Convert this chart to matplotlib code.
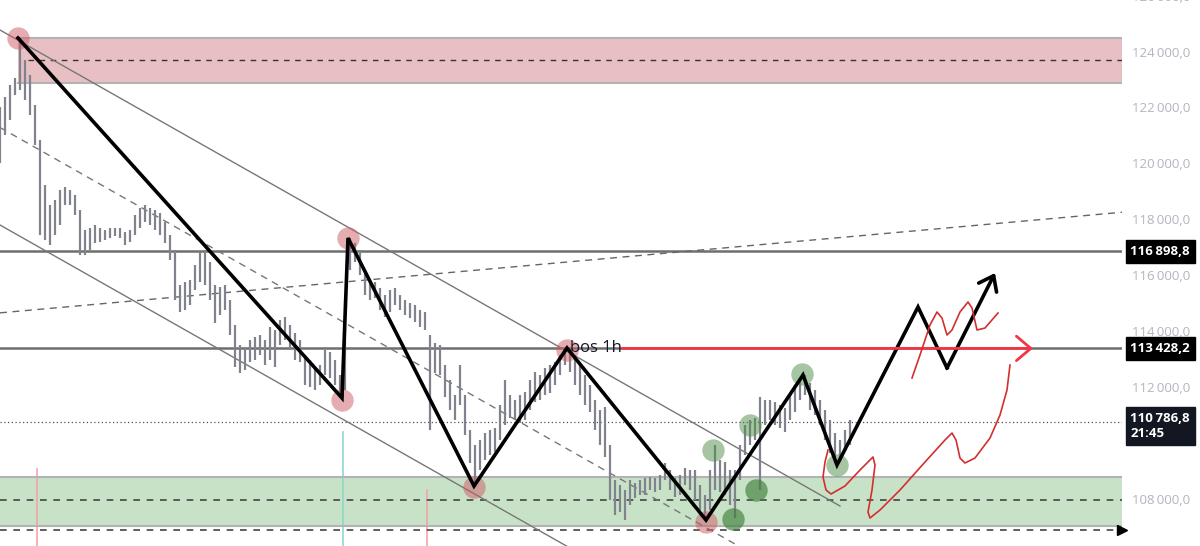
import matplotlib.pyplot as plt

# ===== DATA =====
# candle highs / lows, one bar every 5 px of the original screenshot
highs = [122070, 122420, 122850, 123100, 124540, 123750, 123210, 122140, 120890, 119280,
         118560, 118740, 119100, 119200, 119100, 118920, 118380, 117670, 117740, 117840,
         117740, 117670, 117740, 117740, 117740, 117590, 117670, 118200, 118450, 118560,
         118450, 118380, 118270, 117950, 117490, 116950, 115700, 115800, 115880, 116410,
         116880, 116950, 116520, 115700, 115630, 115700, 115160, 114270, 113550, 113480,
         113730, 113840, 113910, 113730, 114190, 114090, 114440, 114550, 114270, 113980,
         113730, 113190, 113010, 112730, 112830, 113370, 113300, 113010, 112480, 115160,
         117380, 117200, 116950, 116230, 115880, 115800, 115590, 115340, 115520, 115590,
         115340, 115160, 115050, 114980, 114800, 114730, 113910, 113620, 113550, 112830,
         112300, 111760, 112830, 111760, 110510, 109970, 110150, 110400, 110510, 110580,
         111400, 112300, 111760, 111580, 111760, 111870, 112300, 112580, 112480, 112730,
         112830, 112940, 113190, 113370, 113300, 113190, 112830, 112480, 112120, 111580,
         111220, 111330, 109970, 108720, 108540, 108360, 108720, 108610, 108720, 108790,
         108830, 108790, 108900, 109330, 109080, 108790, 108900, 109150, 109080, 109080,
         108540, 108180, 109080, 109970, 109430, 109360, 109080, 109080, 109970, 110690,
         110870, 110940, 111690, 111580, 111580, 111510, 111400, 111300, 111760, 112120,
         112370, 112480, 112190, 111940, 111580, 111220, 110870, 110400, 110150, 110510,
         110870]
lows = [120060, 121070, 121600, 122500, 122680, 122320, 121780, 120710, 117490, 117310,
        117130, 117490, 117840, 118560, 118560, 118200, 116770, 116770, 116950, 117200,
        117240, 117310, 117380, 117450, 117380, 117130, 117240, 117490, 117740, 117950,
        117840, 117670, 117490, 117200, 116590, 115160, 114730, 114800, 114980, 115520,
        115800, 115700, 115160, 114340, 114620, 114800, 113910, 112760, 112550, 112660,
        112940, 113010, 113190, 112830, 113010, 112760, 113550, 113730, 113370, 113010,
        112940, 112120, 112050, 111940, 112120, 112480, 112370, 112120, 111690, 111940,
        116230, 116520, 116050, 115340, 115160, 115230, 114800, 114550, 114730, 114980,
        114800, 114620, 114520, 114370, 114190, 114090, 110510, 112550, 112480, 111690,
        111220, 110870, 111400, 110330, 109330, 108470, 109080, 109430, 109610, 109720,
        110150, 110690, 110940, 110870, 110760, 110870, 111220, 111510, 111580, 111760,
        111830, 112120, 112480, 112830, 112580, 112120, 111760, 111400, 111150, 110510,
        109970, 109540, 108000, 107470, 107570, 107290, 107820, 108070, 108180, 108180,
        108360, 108290, 108360, 108720, 108360, 108110, 108180, 108540, 108360, 108000,
        107640, 107290, 107640, 108360, 108290, 108180, 107820, 107360, 108720, 109610,
        109970, 110150, 108360, 110690, 110870, 110690, 110580, 110440, 110870, 111150,
        111580, 111760, 111220, 111040, 110690, 110150, 109680, 109540, 109360, 109790,
        109970]

# hand-drawn black zigzag (bar index, price)
zigzag_x = [3.6, 68.4, 69.6, 94.8, 113.4, 141.2, 160.6, 167.4, 183.6, 189.4, 199.0]
zigzag_y = [124537, 111653, 117379, 108503, 113442, 107286, 112476, 109255, 114910, 112727, 116126]

# swing markers
red_marks_x = [3.6, 69.6, 68.4, 94.8, 113.4, 141.2]
red_marks_y = [124537, 117379, 111581, 108467, 113370, 107215]
green_marks_x = [142.6, 150.0, 160.4, 167.4]
green_marks_y = [109791, 110686, 112512, 109255]
green_zone_marks_x = [146.6, 151.2]
green_zone_marks_y = [107322, 108360]

# red freehand scribbles
scribble_a_x = [165.6, 165.0, 164.6, 165.2, 166.2, 169.0, 172.0, 174.6, 175.0, 174.4, 173.6, 174.0,
                176.0, 180.0, 185.0, 189.0, 190.4, 191.2, 192.0, 193.0, 195.0, 198.0, 200.0, 201.4, 202.0]
scribble_a_y = [109791, 109362, 108825, 108360, 108216, 108503, 109076, 109541, 109255, 108360, 107573, 107358,
                107644, 108360, 109362, 110149, 110400, 110149, 109505, 109326, 109505, 110221, 111044, 111939, 112834]
scribble_b_x = [182.4, 184.0, 186.0, 187.4, 188.4, 189.4, 190.4, 192.0, 193.6, 194.4, 195.4, 197.0, 199.6]
scribble_b_y = [112368, 113192, 114265, 114731, 114516, 113907, 114086, 114731, 115089, 114874, 114086, 114158, 114695]

# zones and levels
supply_zone = (122926, 124537, 123750)   # bottom, top, mid
demand_zone = (107071, 108825, 108000)
demand_floor = 106928
levels = [116898.8, 113428.2]
last_price = 110786.8
last_time = "21:45"
bos_level = 113428.2
bos_start, bos_end = 124.4, 206.6

# channel (bar index, price)
chan_upper = ([0, 168], [124823, 107787])
chan_mid = ([0, 148], [121334, 106327])
chan_lower = ([0, 114], [117844, 106284])
rising_line = ([0, 224.4], [114700, 118300])

# volume spikes at the bottom (bar index, axes-fraction height)
vol_x = [7.4, 68.6, 85.4]
vol_h = [0.141, 0.209, 0.103]
vol_colors = ["#f5a3a9", "#8fd8cb", "#f5a3a9"]

# 110 000 sits under the last-price label in the reference, so it is not listed
price_ticks = [108000, 112000, 114000, 116000, 118000, 120000, 122000, 124000, 126000]

X_MAX = 224.4
Y_MIN, Y_MAX = 106356, 125897


def fmt(v, dec=1):
    s = f"{v:,.{dec}f}"
    return s.replace(",", "\u2009").replace(".", ",")


plt.rcParams['font.family'] = ['Open Sans', 'DejaVu Sans']

fig = plt.figure(figsize=(12, 5.46), dpi=100)
ax = fig.add_axes([0, 0, 1122 / 1200, 1])
ax.set_xlim(0, X_MAX)
ax.set_ylim(Y_MIN, Y_MAX)
for s in ax.spines.values():
    s.set_visible(False)
ax.set_xticks([])
ax.set_yticks([])

# zones
ax.fill_between([zigzag_x[0], X_MAX], supply_zone[0], supply_zone[1], color="#e8c0c4", lw=0, zorder=1)
for v in supply_zone[:2]:
    ax.plot([zigzag_x[0], X_MAX], [v, v], color="#b3b3b3", lw=1.5, zorder=2)
ax.plot([zigzag_x[0] + 2, X_MAX], [supply_zone[2]] * 2, color="#333333", lw=1, ls=(0, (4, 4)), zorder=2)

ax.fill_between([0, X_MAX], demand_zone[0], demand_zone[1], color="#c8e2c8", lw=0, zorder=1)
for v in demand_zone[:2]:
    ax.plot([0, X_MAX], [v, v], color="#b3b3b3", lw=1.5, zorder=2)
ax.plot([0, X_MAX], [demand_zone[2]] * 2, color="#444444", lw=1.2, ls=(0, (4, 4)), zorder=2)
ax.plot([0, X_MAX], [demand_floor] * 2, color="#444444", lw=1.2, ls=(0, (4, 4)), zorder=2)
ax.plot([X_MAX], [demand_floor], marker=">", color="black", ms=7, clip_on=False, zorder=5)

# volume spikes
for x, h, c in zip(vol_x, vol_h, vol_colors):
    ax.axvline(x, ymin=0, ymax=h, color=c, lw=1.2, zorder=1)

# levels
for lv in levels:
    ax.axhline(lv, color="#6e6e6e", lw=1.8, zorder=2)
ax.axhline(last_price, color="#555555", lw=0.9, ls=(0, (1, 2)), zorder=2)

# channel
ax.plot(*chan_upper, color="#777777", lw=1, zorder=2)
ax.plot(*chan_lower, color="#777777", lw=1, zorder=2)
ax.plot(*chan_mid, color="#777777", lw=1, ls=(0, (5, 4)), zorder=2)
ax.plot(*rising_line, color="#666666", lw=1, ls=(0, (5, 4)), zorder=2)

# candles
ax.vlines(range(len(highs)), lows, highs, color="#80838d", lw=1.6, zorder=3)

# swing markers
ax.scatter(red_marks_x, red_marks_y, s=260, color="#cc5c66", alpha=0.5, lw=0, zorder=4)
ax.scatter(green_marks_x, green_marks_y, s=260, color="#4f8f48", alpha=0.5, lw=0, zorder=4)
ax.scatter(green_zone_marks_x, green_zone_marks_y, s=260, color="#3f7f3a", alpha=0.65, lw=0, zorder=4)

# zigzag with arrow
ax.plot(zigzag_x[:-1], zigzag_y[:-1], color="black", lw=2.6, solid_joinstyle="miter", zorder=6)
ax.annotate("", xy=(zigzag_x[-1], zigzag_y[-1]), xytext=(zigzag_x[-2], zigzag_y[-2]),
            arrowprops=dict(arrowstyle="->,head_length=0.6,head_width=0.45", color="black",
                            lw=2.6, shrinkA=0, shrinkB=0, mutation_scale=16), zorder=6)

# bos 1h
ax.annotate("", xy=(bos_end, bos_level), xytext=(bos_start, bos_level),
            arrowprops=dict(arrowstyle="->,head_length=0.65,head_width=0.55", color="#f23645",
                            lw=2, shrinkA=0, shrinkB=0, mutation_scale=16), zorder=6)
ax.text(114.0, bos_level, "bos 1h", fontsize=12, color="#131722", va="center", ha="left", zorder=7)

# scribbles
ax.plot(scribble_a_x, scribble_a_y, color="#d32f2f", lw=1.2, zorder=6)
ax.plot(scribble_b_x, scribble_b_y, color="#d32f2f", lw=1.2, zorder=6)

# price scale
tr = ax.get_yaxis_transform()
for p in price_ticks:
    ax.text(1.0607, p, fmt(p), transform=tr, ha="right", va="center", fontsize=9.5,
            color="#b2b5be", clip_on=False, zorder=1)
for lv in levels:
    ax.text(1.0607, lv, fmt(lv), transform=tr, ha="right", va="center", fontsize=9.5,
            color="white", fontweight="bold", clip_on=False, zorder=8,
            bbox=dict(boxstyle="square,pad=0.35", fc="black", ec="black"))
ax.annotate(fmt(last_price) + "\n" + last_time, xy=(1.0607, last_price), xycoords=tr,
            xytext=(0, 7.5), textcoords="offset points", ha="right", va="top", fontsize=9.5,
            multialignment="left", color="white", fontweight="bold", annotation_clip=False,
            zorder=8, linespacing=1.25,
            bbox=dict(boxstyle="square,pad=0.35", fc="#131722", ec="#131722"))

fig.savefig("out.png", dpi=100, facecolor="white")
